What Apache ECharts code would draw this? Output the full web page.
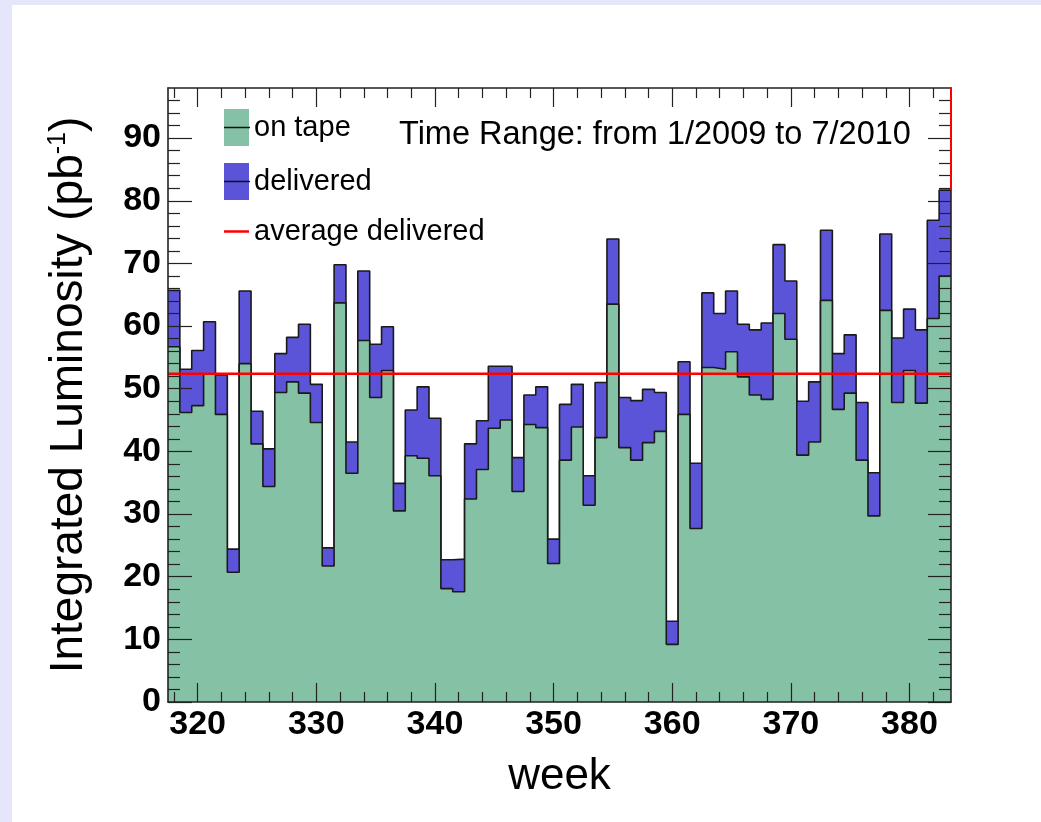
<!DOCTYPE html>
<html>
<head>
<meta charset="utf-8">
<script src="https://cdn.jsdelivr.net/npm/echarts@6/dist/echarts.min.js"></script>
<style>
html,body{margin:0;padding:0;background:#fff;}
#wrap{position:relative;width:1041px;height:822px;background:#fff;overflow:hidden;}
.strip{position:absolute;background:#e6e6fa;}
#chart{position:absolute;left:0;top:0;width:1041px;height:822px;}
</style>
</head>
<body>
<div id="wrap">
  <div class="strip" style="left:0;top:0;width:1041px;height:5px"></div>
  <div class="strip" style="left:0;top:0;width:12px;height:822px"></div>
  <div id="chart"></div>
</div>
<script>
// ---- data ----
const weeks = [318,319,320,321,322,323,324,325,326,327,328,329,330,331,332,333,334,335,336,337,
               338,339,340,341,342,343,344,345,346,347,348,349,350,351,352,353,354,355,356,357,
               358,359,360,361,362,363,364,365,366,367,368,369,370,371,372,373,374,375,376,377,
               378,379,380,381,382,383];
const delivered = [65.7,53.1,56.1,60.7,52.2,24.4,65.6,46.4,40.4,55.6,58.2,60.3,50.7,24.6,69.8,41.5,68.8,57.1,59.9,34.9,
                   46.6,50.3,45.3,22.7,22.8,41.2,44.9,53.6,53.6,39.0,49.0,50.3,26.0,47.5,50.7,36.1,51.0,73.9,48.6,48.1,
                   49.9,49.4,12.9,54.3,38.1,65.3,62.0,65.6,60.3,59.4,60.5,73.0,67.2,48.0,51.1,75.3,55.6,58.6,47.8,36.6,
                   74.7,58.1,62.7,59.4,76.9,81.7];
const onTape =    [56.7,46.2,47.3,52.3,45.9,20.7,54.0,41.2,34.4,49.4,51.1,49.3,44.6,21.7,63.7,36.5,57.7,48.6,52.9,30.5,
                   39.3,38.9,36.1,18.1,17.6,32.4,37.1,43.7,45.0,33.6,44.3,43.8,22.1,38.6,43.9,31.4,42.2,63.5,40.6,38.6,
                   41.4,43.2,9.2,45.9,27.7,53.4,53.1,55.9,51.9,49.0,48.3,62.0,57.9,39.4,41.5,64.1,46.7,49.3,38.6,29.7,
                   62.5,47.8,52.9,47.7,61.2,68.0];
const avgDelivered = 52.4;
const yTop = 98;
const xMajorTicks = [320,330,340,350,360,370,380];
const xMinorTicks = [318,322,324,326,328,332,334,336,338,342,344,346,348,352,354,356,358,362,364,366,368,372,374,376,378,382];
const yMajorTicks = [0,10,20,30,40,50,60,70,80,90];
const yMinorTicks = [2,4,6,8,12,14,16,18,22,24,26,28,32,34,36,38,42,44,46,48,52,54,56,58,62,64,66,68,72,74,76,78,82,84,86,88,92,94,96];

// ---- styling ----
const FONT = 'Liberation Sans, Arial, Helvetica, sans-serif';
const GREEN = '#85c1a5';
const BLUE = '#5b54d9';
const RED = '#ff0000';
const FRAME = '#222';

const xMin = weeks[0] - 0.5;
const xMax = weeks[weeks.length - 1] + 0.5;

function histPoints(vals) {
  const pts = weeks.map((w, i) => [w - 0.5, vals[i]]);
  pts.push([xMax, vals[vals.length - 1]]);
  return pts;
}

function xAx(pos, ticks, len, withLine, withLabels) {
  return {
    type: 'value', position: pos, min: xMin, max: xMax, z: 10,
    axisLine: { show: withLine, onZero: false, lineStyle: { color: FRAME, width: 1.6 } },
    axisTick: { show: true, inside: true, length: len, customValues: ticks, lineStyle: { color: FRAME, width: 1.2 } },
    axisLabel: withLabels ? { show: true, customValues: ticks, fontSize: 34, fontWeight: 'bold', color: '#000', fontFamily: FONT, margin: 6 } : { show: false },
    splitLine: { show: false }, minorTick: { show: false }
  };
}
function yAx(pos, ticks, len, withLine, withLabels) {
  return {
    type: 'value', position: pos, min: 0, max: yTop, z: 10,
    axisLine: { show: withLine, onZero: false, lineStyle: { color: FRAME, width: 1.6 } },
    axisTick: { show: true, inside: true, length: len, customValues: ticks, lineStyle: { color: FRAME, width: 1.2 } },
    axisLabel: withLabels ? { show: true, customValues: ticks, fontSize: 34, fontWeight: 'bold', color: '#000', fontFamily: FONT, margin: 7 } : { show: false },
    splitLine: { show: false }, minorTick: { show: false }
  };
}

const xBottom = xAx('bottom', xMajorTicks, 19, true, true);
xBottom.name = 'week';
xBottom.nameLocation = 'middle';
xBottom.nameGap = 53;
xBottom.nameTextStyle = { fontSize: 44, color: '#000', fontFamily: FONT };

const yLeft = yAx('left', yMajorTicks, 24, true, true);
yLeft.name = 'Integrated Luminosity (pb{sup|-1})';
yLeft.nameLocation = 'middle';
yLeft.nameRotate = 90;
yLeft.nameGap = 76;
yLeft.nameTextStyle = { fontSize: 46, color: '#000', fontFamily: FONT,
  rich: { sup: { fontSize: 25, color: '#000', fontFamily: FONT, verticalAlign: 'top' } } };

const chart = echarts.init(document.getElementById('chart'), null, { renderer: 'canvas' });
chart.setOption({
  animation: false,
  backgroundColor: 'transparent',
  grid: { left: 168, right: 90, top: 88, bottom: 120, containLabel: false },
  title: {
    text: 'Time Range: from 1/2009 to 7/2010', left: 399, top: 119, padding: 0,
    textStyle: { fontSize: 32.5, fontWeight: 'normal', color: '#000', fontFamily: FONT }
  },
  legend: {
    orient: 'vertical', left: 224, top: 109, padding: 0,
    itemWidth: 25, itemHeight: 37, itemGap: 17, selectedMode: false,
    textStyle: { fontSize: 29, color: '#000', fontFamily: FONT },
    data: [
      { name: 'on tape', icon: 'rect', itemStyle: { color: GREEN, borderWidth: 0 } },
      { name: 'delivered', icon: 'rect', itemStyle: { color: BLUE, borderWidth: 0 } },
      { name: 'average delivered', icon: 'path://M0,0H100V10H0Z', itemStyle: { color: RED, borderWidth: 0 } }
    ]
  },
  graphic: [
    { type: 'line', z: 100, shape: { x1: 224, y1: 127.5, x2: 250, y2: 127.5 }, style: { stroke: '#111', lineWidth: 1.5 } },
    { type: 'line', z: 100, shape: { x1: 224, y1: 181.5, x2: 250, y2: 181.5 }, style: { stroke: '#111', lineWidth: 1.5 } }
  ],
  xAxis: [
    xBottom,
    xAx('bottom', xMinorTicks, 10, false, false),
    xAx('top', xMajorTicks, 19, true, false),
    xAx('top', xMinorTicks, 10, false, false)
  ],
  yAxis: [
    yLeft,
    yAx('left', yMinorTicks, 12, false, false),
    yAx('right', yMajorTicks, 23, true, false),
    yAx('right', yMinorTicks, 12, false, false)
  ],
  series: [
    {
      name: 'delivered', type: 'line', step: 'end', xAxisIndex: 0, yAxisIndex: 0,
      data: histPoints(delivered), symbol: 'none', showSymbol: false, silent: true, z: 2,
      itemStyle: { color: BLUE },
      lineStyle: { color: '#1a1a1a', width: 1.6 },
      areaStyle: { color: BLUE, opacity: 1 }
    },
    {
      name: 'on tape', type: 'line', step: 'end', xAxisIndex: 0, yAxisIndex: 0,
      data: histPoints(onTape), symbol: 'none', showSymbol: false, silent: true, z: 3,
      itemStyle: { color: GREEN },
      lineStyle: { color: '#1a1a1a', width: 1.6 },
      areaStyle: { color: GREEN, opacity: 1 }
    },
    {
      name: 'average delivered', type: 'line', xAxisIndex: 0, yAxisIndex: 0,
      data: [[xMin, avgDelivered], [xMax, avgDelivered]], symbol: 'none', silent: true, z: 4,
      itemStyle: { color: RED }, lineStyle: { color: RED, width: 2.5 }
    },
    {
      name: 'edge', type: 'line', xAxisIndex: 0, yAxisIndex: 0, clip: false,
      data: [[xMax, delivered[delivered.length - 1]], [xMax, yTop]], symbol: 'none', silent: true, z: 20,
      itemStyle: { color: RED }, lineStyle: { color: RED, width: 2 }
    }
  ]
});
</script>
</body>
</html>
